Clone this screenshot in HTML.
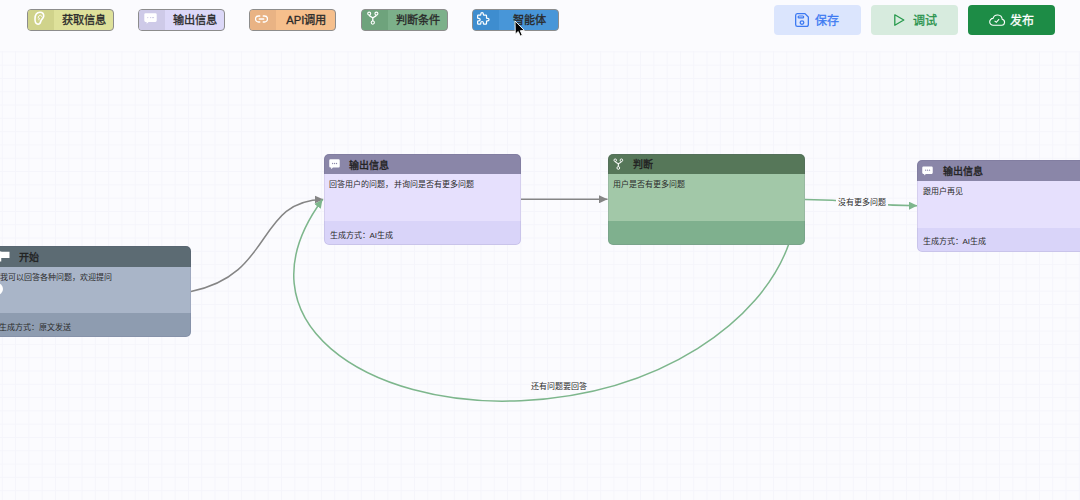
<!DOCTYPE html>
<html lang="zh-CN"><head><meta charset="utf-8">
<style>
*{box-sizing:border-box;margin:0;padding:0}
html,body{width:1080px;height:500px;overflow:hidden}
body{position:relative;background:#fbfbfe;font-family:"Liberation Sans",sans-serif;color:#333}
.canvas{position:absolute;left:0;top:51px;width:1080px;height:449px;
background-color:#fbfbfe;
background-image:linear-gradient(to right,#f5f5fb 1px,transparent 1px),linear-gradient(to bottom,#f5f5fb 1px,transparent 1px);
background-size:13.3px 13.3px;background-position:1.8px 0.4px}
.a{position:absolute}
.tb{position:absolute;top:9px;height:22px;width:87px;border:1px solid #8c8c8c;border-radius:4px;overflow:hidden}
.tb .ic{position:absolute;left:0;top:0;width:26px;height:100%}
.tb .ic svg{position:absolute}
.tb .tx{position:absolute;left:27.6px;right:0;top:0.8px;height:20px;line-height:19px;text-align:center;font-size:11.2px;font-weight:500;color:#2a2a2a;-webkit-text-stroke:0.3px currentColor;white-space:nowrap}
.rb{position:absolute;top:5px;height:30px;width:87px;border-radius:4px}
.rb svg{position:absolute}
.rb .tx{position:absolute;top:2px;line-height:29px;font-size:12px;font-weight:500;-webkit-text-stroke:0.3px currentColor;white-space:nowrap}
.node{position:absolute;width:197px;border-radius:5px;overflow:hidden}
.node .h,.node .b,.node .f{position:absolute;left:0;width:100%}
.node .t{position:absolute;left:25px;font-size:10px;font-weight:500;color:#222;-webkit-text-stroke:0.35px currentColor;white-space:nowrap;line-height:12px}
.node .bt{position:absolute;left:5.5px;font-size:8px;font-weight:500;color:#2c2c2c;white-space:nowrap;line-height:10px}
.node svg{position:absolute}
.node::after{content:"";position:absolute;left:0;top:0;right:0;bottom:0;border:1px solid rgba(70,60,110,0.10);border-radius:5px}
.lbl{position:absolute;font-size:8px;font-weight:500;color:#2c2c2c;line-height:10px;white-space:nowrap}
</style></head><body>
<div class="canvas"></div>

<!-- toolbar left -->
<div class="tb" style="left:27px;background:#dee19a">
  <div class="ic" style="background:#d0d38b">
    <svg style="left:6.3px;top:1.2px" width="11" height="14" viewBox="0 0 11 14"><path d="M3.2 13C1.6 12.5 1 10.4 1 8 1 3.9 3 1.2 6 1.2c2.6 0 3.9 1.8 3.7 3.9-.2 1.9-1.5 2.6-2.3 3.9-.8 1.3-.8 2.7-1.8 3.6-.7.6-1.5.6-2.4.4z" fill="none" stroke="#fff" stroke-width="1.6"/><path d="M4.2 7.4c0-2 1-3.1 2.1-3.1.9 0 1.5.7 1.4 1.6M5 9.3c-.4-.9 0-1.9 1-2" fill="none" stroke="#fff" stroke-width="1"/></svg>
  </div>
  <div class="tx">获取信息</div>
</div>
<div class="tb" style="left:138px;background:#dcd8f8">
  <div class="ic" style="background:#cecae8">
    <svg style="left:4.6px;top:3px" width="13" height="11" viewBox="0 0 13 11"><path d="M1.6.3h9.8a1.3 1.3 0 0 1 1.3 1.3v6a1.3 1.3 0 0 1-1.3 1.3H4.6L2.6 10.8V8.9h-1A1.3 1.3 0 0 1 .3 7.6v-6A1.3 1.3 0 0 1 1.6.3z" fill="#fff"/><circle cx="3.8" cy="4.6" r=".55" fill="#c4c0e0"/><circle cx="6.6" cy="4.6" r=".55" fill="#c4c0e0"/><circle cx="8.3" cy="4.6" r=".55" fill="#c4c0e0"/><circle cx="9.6" cy="4.6" r=".55" fill="#c4c0e0"/></svg>
  </div>
  <div class="tx">输出信息</div>
</div>
<div class="tb" style="left:249px;background:#f6bf8c">
  <div class="ic" style="background:#e9b384">
    <svg style="left:5.2px;top:4.5px" width="13" height="8" viewBox="0 0 13 8"><path d="M4.8 1H3.5a3 3 0 0 0 0 6h1.3M8.2 1h1.3a3 3 0 0 1 0 6H8.2M4.2 4h4.6" stroke="#fff" stroke-width="1.3" fill="none" stroke-linecap="round"/></svg>
  </div>
  <div class="tx"><span style="font-weight:normal">API</span>调用</div>
</div>
<div class="tb" style="left:361px;background:#7cb08a">
  <div class="ic" style="background:#6ea37c">
    <svg style="left:5.2px;top:1.4px" width="12" height="14" viewBox="0 0 12 14"><circle cx="2.2" cy="2.6" r="1.5" fill="none" stroke="#fff" stroke-width="1.1"/><circle cx="9.4" cy="2.6" r="1.5" fill="none" stroke="#fff" stroke-width="1.1"/><circle cx="5.8" cy="11.6" r="1.6" fill="none" stroke="#fff" stroke-width="1.1"/><path d="M2.3 4.1C2.5 6 5.8 5.6 5.8 7.2v2.8M9.3 4.1C9.1 6 5.8 5.6 5.8 7.2" stroke="#fff" stroke-width="1.3" fill="none"/></svg>
  </div>
  <div class="tx">判断条件</div>
</div>
<div class="tb" style="left:472px;background:#4896d8">
  <div class="ic" style="background:#3e8dcf">
    <svg style="left:4.3px;top:2.3px" width="12.7" height="12.7" viewBox="2 2 20 20"><path d="M4 7h3a1 1 0 0 0 1-1v-1a2 2 0 0 1 4 0v1a1 1 0 0 0 1 1h3a1 1 0 0 1 1 1v3a1 1 0 0 0 1 1h1a2 2 0 0 1 0 4h-1a1 1 0 0 0-1 1v3a1 1 0 0 1-1 1h-3a1 1 0 0 1-1-1v-1a2 2 0 0 0-4 0v1a1 1 0 0 1-1 1H4a1 1 0 0 1-1-1v-3a1 1 0 0 1 1-1h1a2 2 0 0 0 0-4H4a1 1 0 0 1-1-1V8a1 1 0 0 1 1-1" fill="none" stroke="#fff" stroke-width="1.9"/></svg>
  </div>
  <div class="tx">智能体</div>
</div>

<!-- toolbar right -->
<div class="rb" style="left:774px;background:#dbe5fd;color:#3d7af2">
  <svg style="left:21px;top:8px" width="14" height="14" viewBox="0 0 14 14"><path d="M2.3.65h7.6l3.45 3.45v7.3a1.9 1.9 0 0 1-1.9 1.9H2.5A1.9 1.9 0 0 1 .65 11.4V2.5A1.9 1.9 0 0 1 2.3.65z" fill="none" stroke="#3d7af2" stroke-width="1.3"/><rect x="3.1" y="3" width="5.6" height="1.9" rx=".9" fill="none" stroke="#3d7af2" stroke-width="1.2"/><circle cx="7" cy="9.6" r="1.8" fill="none" stroke="#3d7af2" stroke-width="1.3"/></svg>
  <div class="tx" style="left:41px">保存</div>
</div>
<div class="rb" style="left:871px;background:#d7ebde;color:#26914a">
  <svg style="left:23px;top:9px" width="11" height="12" viewBox="0 0 11 12"><path d="M.8.8l9 5.2-9 5.2z" fill="none" stroke="#279a4c" stroke-width="1.3" stroke-linejoin="round"/></svg>
  <div class="tx" style="left:42px">调试</div>
</div>
<div class="rb" style="left:968px;width:87px;background:#1d8c46;color:#fff">
  <svg style="left:20.5px;top:8.8px" width="17" height="12" viewBox="0 0 17 12"><path d="M4.3 11.3h8.4a3.1 3.1 0 0 0 .5-6.1A4.7 4.7 0 0 0 4 4.4a3.4 3.4 0 0 0 .3 6.9z" fill="none" stroke="#fff" stroke-width="1.1"/><path d="M5.6 6.8l1.7 1.5 2.8-3.2" fill="none" stroke="#fff" stroke-width="1.1"/></svg>
  <div class="tx" style="left:42px">发布</div>
</div>

<!-- edges -->
<svg class="a" style="left:0;top:0" width="1080" height="500">
  <defs>
    <marker id="ag" viewBox="0 0 10 10" refX="10" refY="5" markerWidth="8.5" markerHeight="8" preserveAspectRatio="none" markerUnits="userSpaceOnUse" orient="auto"><path d="M0 0L10 5L0 10z" fill="#858585"/></marker>
    <marker id="agr" viewBox="0 0 10 10" refX="10" refY="5" markerWidth="8.5" markerHeight="8.2" preserveAspectRatio="none" markerUnits="userSpaceOnUse" orient="auto"><path d="M0 0L10 5L0 10z" fill="#7db68c"/></marker>
  </defs>
  <path d="M191 291.4C274.6 274.9 255.7 200.2 323.2 199.4" stroke="#858585" stroke-width="1.5" fill="none" marker-end="url(#ag)"/>
  <path d="M521 199.3L607.5 199.3" stroke="#858585" stroke-width="1.5" fill="none" marker-end="url(#ag)"/>
  <path d="M805 199.4C860 199.4 860 205.7 917.3 205.7" stroke="#7db68c" stroke-width="1.5" fill="none" marker-end="url(#agr)"/>
  <path d="M788.6 244.5C761.6 320.4 661.8 393.9 520.9 400.7C368.3 408.1 232.7 321.5 322.5 199.5" stroke="#7db68c" stroke-width="1.5" fill="none" marker-end="url(#agr)"/>
</svg>
<div class="lbl" style="left:835.5px;top:198px;background:#fbfbfe;padding:0 2px">没有更多问题</div>
<div class="lbl" style="left:531px;top:381.5px">还有问题要回答</div>

<!-- nodes -->
<div class="node" style="left:-6px;top:246px;height:91px">
  <div class="h" style="top:0;height:21px;background:#5c6b73"></div>
  <div class="b" style="top:21px;height:46px;background:#a9b5c8"></div>
  <div class="f" style="top:67px;height:24px;background:#8e9cb0"></div>
  <svg style="left:4px;top:5px" width="12" height="11" viewBox="0 0 12 11"><path d="M2.6 0.5v10" stroke="#fff" stroke-width="1.3"/><path d="M1 0.8h10.5v6.2H1z" fill="#fff"/></svg>
  <div class="t" style="top:6px">开始</div>
  <div class="bt" style="top:26.5px">我可以回答各种问题，欢迎提问</div>
  <div class="a" style="left:-3.5px;top:37px;width:12px;height:12px;border-radius:50%;background:#fff"></div>
  <div class="bt" style="top:77px;left:4.5px">生成方式：原文发送</div>
</div>

<div class="node" style="left:324px;top:154px;height:91px">
  <div class="h" style="top:0;height:20px;background:#8a86a8"></div>
  <div class="b" style="top:20px;height:47px;background:#e6e0fd"></div>
  <div class="f" style="top:67px;height:24px;background:#d9d4f9"></div>
  <svg style="left:5px;top:4.9px" width="11" height="10.6" viewBox="0 0 13 11" preserveAspectRatio="none"><path d="M1.6.3h9.8a1.3 1.3 0 0 1 1.3 1.3v6a1.3 1.3 0 0 1-1.3 1.3H4.6L2.6 10.8V8.9h-1A1.3 1.3 0 0 1 .3 7.6v-6A1.3 1.3 0 0 1 1.6.3z" fill="#fff"/><circle cx="4.3" cy="4.6" r=".75" fill="#8a86a8"/><circle cx="6.6" cy="4.6" r=".75" fill="#8a86a8"/><circle cx="8.9" cy="4.6" r=".75" fill="#8a86a8"/></svg>
  <div class="t" style="top:5.5px">输出信息</div>
  <div class="bt" style="top:26.2px;left:4.8px">回答用户的问题，<span style="margin-left:1.3px"></span>并询问是否有更多问题</div>
  <div class="bt" style="top:76.5px">生成方式：<span style="font-weight:normal">AI</span>生成</div>
</div>

<div class="node" style="left:608px;top:154px;height:91px">
  <div class="h" style="top:0;height:20px;background:#567759"></div>
  <div class="b" style="top:20px;height:47px;background:#a2c8a8"></div>
  <div class="f" style="top:67px;height:24px;background:#7fb08e"></div>
  <svg style="left:5px;top:4px" width="11" height="12" viewBox="0 0 12 14"><circle cx="2.2" cy="2.6" r="1.5" fill="none" stroke="#fff" stroke-width="1.1"/><circle cx="9.4" cy="2.6" r="1.5" fill="none" stroke="#fff" stroke-width="1.1"/><circle cx="5.8" cy="11.6" r="1.6" fill="none" stroke="#fff" stroke-width="1.1"/><path d="M2.3 4.1C2.5 6 5.8 5.6 5.8 7.2v2.8M9.3 4.1C9.1 6 5.8 5.6 5.8 7.2" stroke="#fff" stroke-width="1.3" fill="none"/></svg>
  <div class="t" style="top:5px">判断</div>
  <div class="bt" style="top:25.8px;left:4.8px">用户是否有更多问题</div>
</div>

<div class="node" style="left:917px;top:160px;height:92px">
  <div class="h" style="top:0;height:21px;background:#8a86a8"></div>
  <div class="b" style="top:21px;height:47px;background:#e6e0fd"></div>
  <div class="f" style="top:68px;height:24px;background:#d9d4f9"></div>
  <svg style="left:5px;top:6px" width="11" height="10" viewBox="0 0 13 11"><path d="M1.6.3h9.8a1.3 1.3 0 0 1 1.3 1.3v6a1.3 1.3 0 0 1-1.3 1.3H4.6L2.6 10.8V8.9h-1A1.3 1.3 0 0 1 .3 7.6v-6A1.3 1.3 0 0 1 1.6.3z" fill="#fff"/><circle cx="4.3" cy="4.6" r=".75" fill="#8a86a8"/><circle cx="6.6" cy="4.6" r=".75" fill="#8a86a8"/><circle cx="8.9" cy="4.6" r=".75" fill="#8a86a8"/></svg>
  <div class="t" style="top:5.6px;left:26.2px">输出信息</div>
  <div class="bt" style="top:26.8px">跟用户再见</div>
  <div class="bt" style="top:77px">生成方式：<span style="font-weight:normal">AI</span>生成</div>
</div>

<!-- cursor -->
<svg class="a" style="left:514.3px;top:20px" width="12" height="17" viewBox="0 0 12 17"><path d="M1 1L1.3 14.2L4.2 11.5L6.3 16.1L8.3 15.2L6.3 10.7L10.3 10.4Z" fill="#000" stroke="#fff" stroke-width=".9" stroke-linejoin="round"/></svg>
</body></html>
